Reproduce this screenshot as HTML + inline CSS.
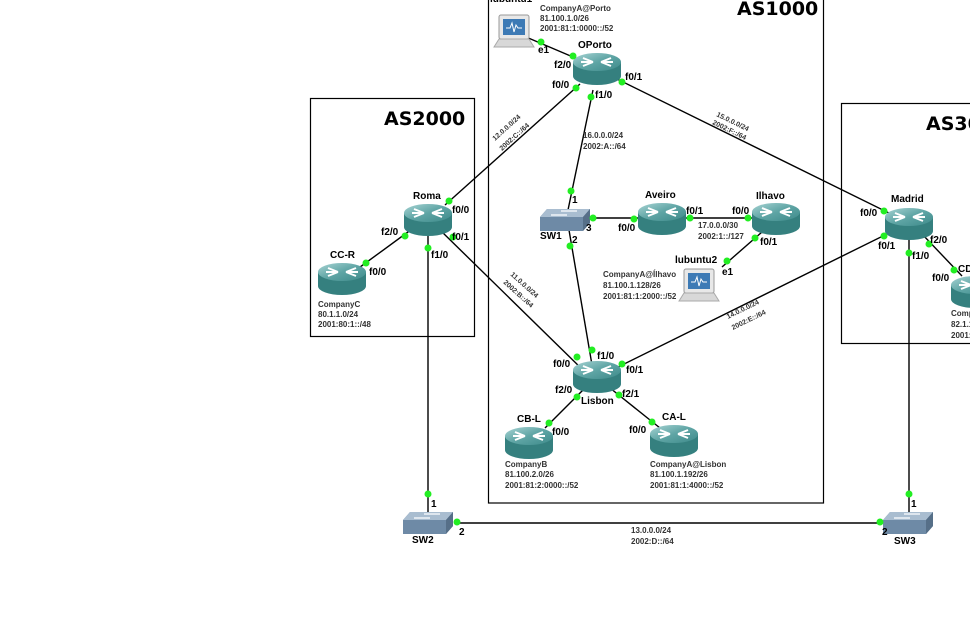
<!DOCTYPE html>
<html><head><meta charset="utf-8"><style>
html,body{margin:0;padding:0;background:#fff;}
svg{display:block;font-family:"Liberation Sans","DejaVu Sans",sans-serif;}
.b{font-weight:bold;font-size:10px;fill:#000;}
.s{font-size:8px;fill:#333;font-weight:bold;}
.t{font-size:7px;fill:#333;font-weight:bold;}
.ln{stroke:#000;stroke-width:1.4;fill:none;}
.d{fill:#22ee22;}
.h{font-family:"DejaVu Sans",sans-serif;font-size:19px;font-weight:bold;}
</style></head><body>
<svg width="970" height="641" viewBox="0 0 970 641" xmlns="http://www.w3.org/2000/svg">
<defs>
<linearGradient id="rt" x1="0" y1="0" x2="1" y2="1"><stop offset="0" stop-color="#a8d4d4"/><stop offset="0.5" stop-color="#5fa5a5"/><stop offset="1" stop-color="#3d8a8a"/></linearGradient>
<g id="router">
<path d="M-24,-6 L-24,8 A24,9 0 0 0 24,8 L24,-6 Z" fill="#35807f"/>
<ellipse cx="0" cy="-6" rx="24" ry="9" fill="url(#rt)"/>
<path d="M-14,-10 L-4,-6 M-14,-2 L-4,-6 M14,-10 L4,-6 M14,-2 L4,-6 M-16,-6 L-6,-6 M16,-6 L6,-6" stroke="#fff" stroke-width="2" fill="none"/>
</g>
<g id="switch">
<path d="M-25,-2 L-18,-10 L25,-10 L25,4 L18,12 L-25,12 Z" fill="#6e8aa6"/>
<path d="M-25,-2 L-18,-10 L25,-10 L18,-2 Z" fill="#a9bdd0"/>
<path d="M18,-2 L25,-10 L25,4 L18,12 Z" fill="#566f88"/>
<path d="M-14,-4 L2,-4 M-4,-8 L12,-8" stroke="#fff" stroke-width="1.2"/>
</g>
<g id="laptop">
<rect x="-17" y="-22" width="30" height="24" rx="2" fill="#e8e8e8" stroke="#999"/>
<rect x="-13" y="-18" width="22" height="16" fill="#3d7ab5"/>
<path d="M-10,-9 L-6,-9 L-4,-14 L-2,-5 L0,-12 L2,-9 L6,-9" stroke="#fff" stroke-width="1" fill="none"/>
<path d="M-22,10 L-17,2 L13,2 L18,10 Z" fill="#d8d8d8" stroke="#aaa"/>
</g>
</defs>

<rect x="310.5" y="98.5" width="164" height="238" fill="none" stroke="#000" stroke-width="1.2"/>
<rect x="488.5" y="-5" width="335" height="508" fill="none" stroke="#000" stroke-width="1.2"/>
<rect x="841.5" y="103.5" width="140" height="240" fill="none" stroke="#000" stroke-width="1.2"/>
<text class="h" x="384" y="125">AS2000</text>
<text class="h" x="737" y="15">AS1000</text>
<text class="h" x="926" y="130">AS3000</text>

<line class="ln" x1="526" y1="37" x2="580" y2="60"/>
<line class="ln" x1="580" y1="84" x2="445" y2="205"/>
<line class="ln" x1="593" y1="90" x2="568" y2="210"/>
<line class="ln" x1="615" y1="78" x2="893" y2="215"/>
<line class="ln" x1="590" y1="218" x2="640" y2="218"/>
<line class="ln" x1="684" y1="218" x2="754" y2="218"/>
<line class="ln" x1="762" y1="232" x2="722" y2="267"/>
<line class="ln" x1="569" y1="230" x2="592" y2="365"/>
<line class="ln" x1="440" y1="230" x2="585" y2="372"/>
<line class="ln" x1="895" y1="230" x2="612" y2="370"/>
<line class="ln" x1="583" y1="390" x2="545" y2="428"/>
<line class="ln" x1="610" y1="388" x2="660" y2="428"/>
<line class="ln" x1="412" y1="229" x2="356" y2="270"/>
<line class="ln" x1="428" y1="233" x2="428" y2="515"/>
<line class="ln" x1="909" y1="235" x2="909" y2="515"/>
<line class="ln" x1="922" y1="234" x2="962" y2="276"/>
<line class="ln" x1="455" y1="523" x2="882" y2="523"/>

<use href="#router" x="597" y="68"/>
<use href="#router" x="428" y="219"/>
<use href="#router" x="342" y="278"/>
<use href="#router" x="662" y="218"/>
<use href="#router" x="776" y="218"/>
<use href="#router" x="909" y="223"/>
<use href="#router" x="597" y="376"/>
<use href="#router" x="529" y="442"/>
<use href="#router" x="674" y="440"/>
<use href="#router" x="975" y="291"/>
<use href="#switch" x="565" y="219"/>
<use href="#switch" x="428" y="522"/>
<use href="#switch" x="908" y="522"/>
<use href="#laptop" x="516" y="37"/>
<use href="#laptop" x="701" y="291"/>

<g class="d">
<circle cx="541" cy="42" r="3.5"/><circle cx="573" cy="56" r="3.5"/><circle cx="576" cy="88" r="3.5"/>
<circle cx="591" cy="97" r="3.5"/><circle cx="622" cy="82" r="3.5"/><circle cx="449" cy="201" r="3.5"/>
<circle cx="571" cy="191" r="3.5"/><circle cx="884" cy="211" r="3.5"/><circle cx="593" cy="218" r="3.5"/>
<circle cx="634" cy="219" r="3.5"/><circle cx="690" cy="218" r="3.5"/><circle cx="748" cy="218" r="3.5"/>
<circle cx="755" cy="238" r="3.5"/><circle cx="727" cy="261" r="3.5"/><circle cx="570" cy="246" r="3.5"/>
<circle cx="592" cy="350" r="3.5"/><circle cx="453" cy="237" r="3.5"/><circle cx="577" cy="357" r="3.5"/>
<circle cx="884" cy="236" r="3.5"/><circle cx="622" cy="364" r="3.5"/><circle cx="577" cy="397" r="3.5"/>
<circle cx="549" cy="423" r="3.5"/><circle cx="619" cy="395" r="3.5"/><circle cx="652" cy="422" r="3.5"/>
<circle cx="405" cy="236" r="3.5"/><circle cx="366" cy="263" r="3.5"/><circle cx="428" cy="248" r="3.5"/>
<circle cx="428" cy="494" r="3.5"/><circle cx="909" cy="253" r="3.5"/><circle cx="909" cy="494" r="3.5"/>
<circle cx="929" cy="244" r="3.5"/><circle cx="954" cy="270" r="3.5"/><circle cx="457" cy="522" r="3.5"/>
<circle cx="880" cy="522" r="3.5"/>
</g>

<g class="b">
<text x="490" y="2">lubuntu1</text>
<text x="578" y="48">OPorto</text>
<text x="413" y="199">Roma</text>
<text x="330" y="258">CC-R</text>
<text x="645" y="198">Aveiro</text>
<text x="756" y="199">Ilhavo</text>
<text x="891" y="202">Madrid</text>
<text x="581" y="404">Lisbon</text>
<text x="517" y="422">CB-L</text>
<text x="662" y="420">CA-L</text>
<text x="958" y="272">CD</text>
<text x="540" y="239">SW1</text>
<text x="412" y="543">SW2</text>
<text x="894" y="544">SW3</text>
<text x="675" y="263">lubuntu2</text>
</g>
<g class="b">
<text x="538" y="53">e1</text><text x="554" y="68">f2/0</text><text x="552" y="88">f0/0</text>
<text x="595" y="98">f1/0</text><text x="625" y="80">f0/1</text>
<text x="452" y="213">f0/0</text><text x="452" y="240">f0/1</text><text x="381" y="235">f2/0</text>
<text x="431" y="258">f1/0</text><text x="369" y="275">f0/0</text>
<text x="572" y="203">1</text><text x="586" y="231">3</text><text x="572" y="243">2</text>
<text x="618" y="231">f0/0</text><text x="686" y="214">f0/1</text><text x="732" y="214">f0/0</text>
<text x="760" y="245">f0/1</text><text x="722" y="275">e1</text>
<text x="860" y="216">f0/0</text><text x="878" y="249">f0/1</text><text x="912" y="259">f1/0</text>
<text x="930" y="243">f2/0</text><text x="932" y="281">f0/0</text>
<text x="553" y="367">f0/0</text><text x="597" y="359">f1/0</text><text x="626" y="373">f0/1</text>
<text x="555" y="393">f2/0</text><text x="622" y="397">f2/1</text>
<text x="552" y="435">f0/0</text><text x="629" y="433">f0/0</text>
<text x="431" y="507">1</text><text x="459" y="535">2</text>
<text x="911" y="507">1</text><text x="882" y="535">2</text>
</g>
<g class="s">
<text x="540" y="11">CompanyA@Porto</text><text x="540" y="21">81.100.1.0/26</text><text x="540" y="31">2001:81:1:0000::/52</text>
<text x="318" y="307">CompanyC</text><text x="318" y="317">80.1.1.0/24</text><text x="318" y="327">2001:80:1::/48</text>
<text x="603" y="277">CompanyA@Ílhavo</text><text x="603" y="288">81.100.1.128/26</text><text x="603" y="299">2001:81:1:2000::/52</text>
<text x="505" y="467">CompanyB</text><text x="505" y="477">81.100.2.0/26</text><text x="505" y="488">2001:81:2:0000::/52</text>
<text x="650" y="467">CompanyA@Lisbon</text><text x="650" y="477">81.100.1.192/26</text><text x="650" y="488">2001:81:1:4000::/52</text>
<text x="951" y="316">Company</text><text x="951" y="327">82.1.1.0</text><text x="951" y="338">2001:82</text>
<text x="583" y="138">16.0.0.0/24</text><text x="583" y="149">2002:A::/64</text>
<text x="698" y="228">17.0.0.0/30</text><text x="698" y="239">2002:1::/127</text>
<text x="631" y="533">13.0.0.0/24</text><text x="631" y="544">2002:D::/64</text>
</g>
<g class="t">
<text transform="translate(495,141) rotate(-42)">12.0.0.0/24</text>
<text transform="translate(502,151) rotate(-42)">2002:C::/64</text>
<text transform="translate(716,116) rotate(26)">15.0.0.0/24</text>
<text transform="translate(712,124) rotate(26)">2002:F::/64</text>
<text transform="translate(510,275) rotate(42)">11.0.0.0/24</text>
<text transform="translate(503,283) rotate(42)">2002:B::/64</text>
<text transform="translate(728,319) rotate(-26)">14.0.0.0/24</text>
<text transform="translate(733,330) rotate(-26)">2002:E::/64</text>
</g>
</svg>
</body></html>
